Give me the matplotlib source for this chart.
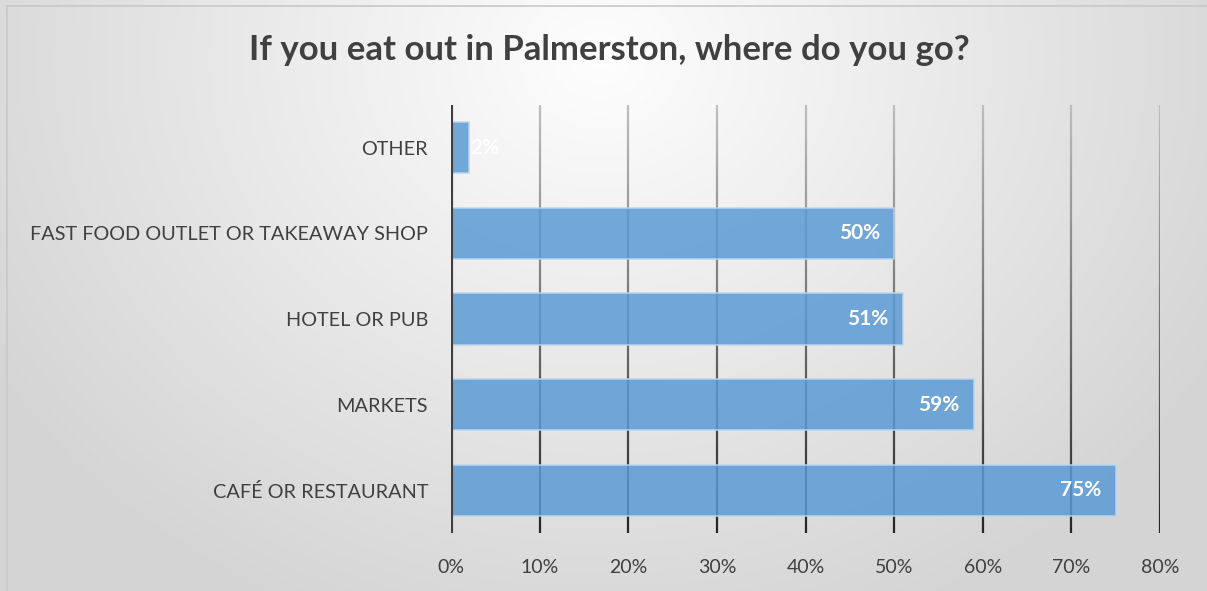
import numpy as np
import matplotlib
matplotlib.use("Agg")
import matplotlib.pyplot as plt
from matplotlib.collections import LineCollection

categories = ["CAFÉ OR RESTAURANT", "MARKETS", "HOTEL OR PUB",
              "FAST FOOD OUTLET OR TAKEAWAY SHOP", "OTHER"]
values = [75, 59, 51, 50, 2]
xticks = [0, 10, 20, 30, 40, 50, 60, 70, 80]

plt.rcParams['font.family'] = ['Lato', 'DejaVu Sans']

W, H = 1207, 591
fig = plt.figure(figsize=(W / 100, H / 100), dpi=100)

# radial gradient background
bg = fig.add_axes([0, 0, 1, 1], zorder=-10)
yy, xx = np.mgrid[0:H, 0:W]
r = np.sqrt(((xx - 600) / 700.0) ** 2 + ((yy - 60) / 600.0) ** 2)
r = np.clip(r, 0, 1)
shade = 0.995 - 0.16 * r
bg.imshow(np.dstack([shade] * 3), extent=[-2, W + 2, H + 2, -2], aspect="auto",
          interpolation="bilinear")
# only top and left border are visible (chart is cropped)
bg.plot([7, W + 5], [6, 6], color="#c8c8c8", lw=1.2)
bg.plot([7, 7], [6, H + 5], color="#c8c8c8", lw=1.2)
bg.set_xlim(0, W)
bg.set_ylim(H, 0)
bg.axis("off")

ax = fig.add_axes([451 / W, 1 - 533 / H, (1160 - 451) / W, (533 - 105) / H])
ax.patch.set_alpha(0)
ax.set_xlim(0, 80)
ax.set_ylim(-0.5, len(categories) - 0.5)

# vertical gridlines with a light-to-dark gradient
n = 60
ys = np.linspace(-0.5, len(categories) - 0.5, n + 1)
for t in xticks[1:]:
    segs = [[(t, ys[i]), (t, ys[i + 1])] for i in range(n)]
    cols = [plt.cm.gray(0.15 + 0.6 * (i / n)) for i in range(n)]
    ax.add_collection(LineCollection(segs, colors=cols, lw=1.6, zorder=1))

y = np.arange(len(categories))
bars = ax.barh(y, values, height=0.6, color="#5b9bd5", alpha=0.85,
               edgecolor="#bcd7f0", linewidth=1.2, zorder=2)
for b, v in zip(bars, values):
    cy = b.get_y() + b.get_height() / 2
    if v < 5:
        ax.text(v + 0.2, cy, f"{v}%", ha="left", va="center", color="white",
                fontsize=15, fontweight="bold", zorder=3)
    else:
        ax.text(v - 1.6, cy, f"{v}%", ha="right", va="center", color="white",
                fontsize=15, fontweight="bold", zorder=3)

ax.axvline(0, color="#404040", lw=3, zorder=4)

ax.set_yticks(y)
ax.set_yticklabels(categories, fontsize=14.3, color="#404040")
ax.set_xticks(xticks)
ax.set_xticklabels([f"{t}%" for t in xticks], fontsize=14, color="#404040")
ax.tick_params(axis="y", length=0, pad=16.5)
ax.tick_params(axis="x", length=0, pad=19)
for s in ax.spines.values():
    s.set_visible(False)

fig.text(609 / W, 1 - 50 / H, "If you eat out in Palmerston, where do you go?",
         ha="center", va="center", fontsize=25, fontweight="bold", color="#404040")

fig.savefig("out.png", dpi=100)
